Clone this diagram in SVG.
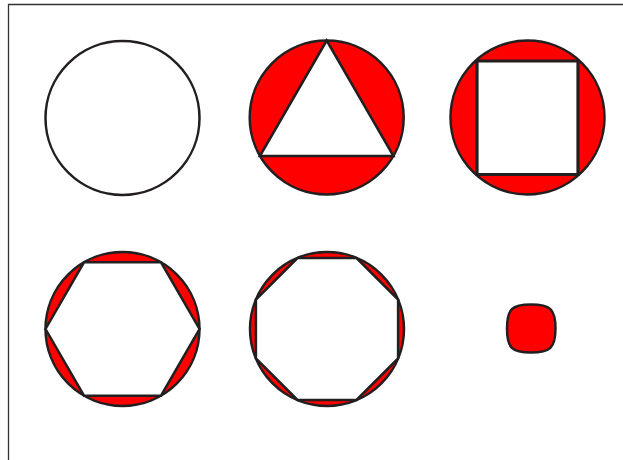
<svg xmlns="http://www.w3.org/2000/svg" width="623" height="460" viewBox="0 0 623 460">
<style>
.c{fill:#ff0000;stroke:#231f20;stroke-width:2.5}
.c0{fill:#fff;stroke:#231f20;stroke-width:2.5}
.p{fill:#fff;stroke:#231f20;stroke-width:2.5;stroke-linejoin:miter}
.frame{stroke:#333;stroke-width:1.3;fill:none}
</style>
<rect width="623" height="460" fill="#fff"/>
<path class="frame" d="M8.5 460 V4.5 H623"/>
<g id="circle-empty">
<circle class="c0" cx="122.5" cy="118" r="77"/>
</g>
<g id="circle-triangle">
<circle class="c" cx="326.7" cy="117.5" r="77"/>
<polygon class="p" points="326.7,40.5 259.9,156 393.5,156"/>
</g>
<g id="circle-square">
<circle class="c" cx="527.5" cy="117.5" r="77"/>
<polygon class="p" style="stroke-width:3.2" points="477,61 578,61 578,174.5 477,174.5"/>
</g>
<g id="circle-hexagon">
<circle class="c" cx="122.5" cy="329" r="77"/>
<polygon class="p" points="45.5,329 84,262.3 161,262.3 199.5,329 161,395.7 84,395.7"/>
</g>
<g id="circle-octagon">
<circle class="c" cx="327" cy="329" r="77"/>
<polygon class="p" points="297.5,258 356.5,258 398.1,299.5 398.1,358.5 356.5,400 297.5,400 255.9,358.5 255.9,299.5"/>
</g>
<g id="small-blob">
<path class="c" d="M507,328.5 C507,309 512,304.5 531,304.5 C550,304.5 555.5,309 555.5,328.5 C555.5,348 550,352.5 531,352.5 C512,352.5 507,348 507,328.5 Z"/>
</g>
</svg>
